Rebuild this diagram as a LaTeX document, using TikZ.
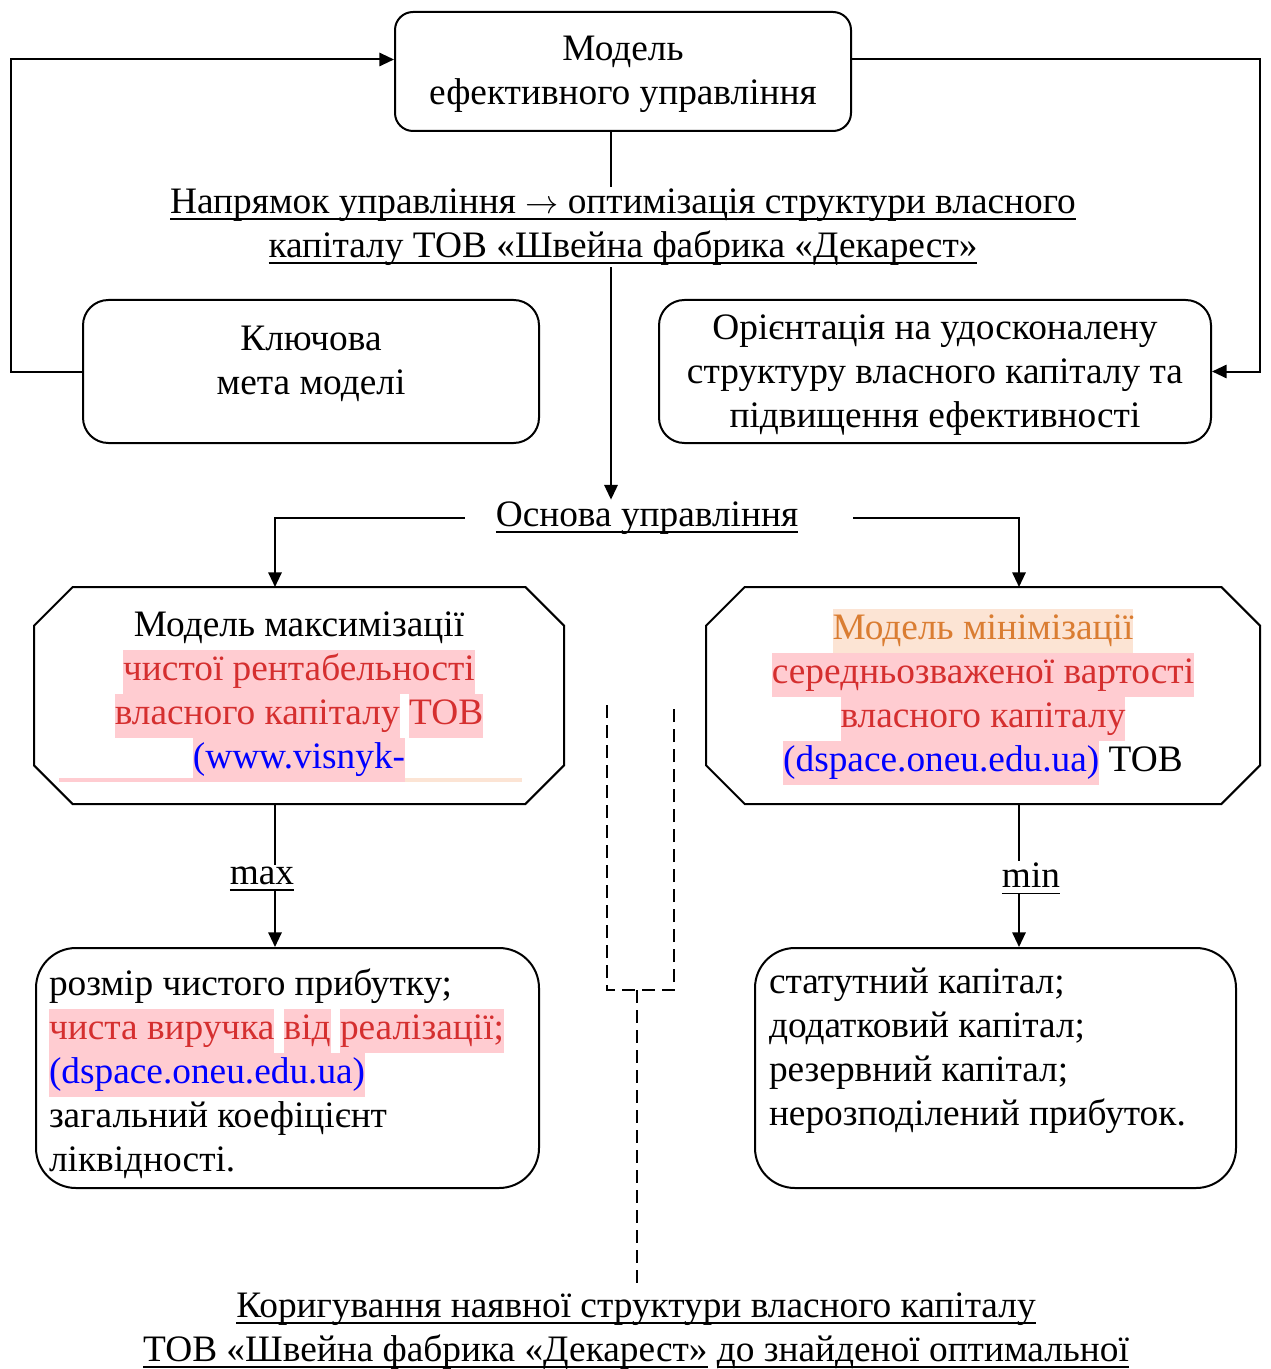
\documentclass[tikz,border=0pt]{standalone}
\usepackage{fontspec}
\setmainfont{Liberation Serif}
\usetikzlibrary{arrows.meta}

\definecolor{txtred}{RGB}{213,47,47}
\definecolor{txtorange}{RGB}{218,125,50}
\definecolor{txtblue}{RGB}{0,0,255}
\definecolor{hlpink}{RGB}{255,204,209}
\definecolor{hlpeach}{RGB}{252,228,212}

% underline at a fixed depth
\newsavebox{\undlbox}
\newcommand{\undl}[1]{\sbox{\undlbox}{#1}\rlap{\rule[-5pt]{\wd\undlbox}{1.3pt}}\usebox{\undlbox}}
\newcommand{\redhl}[1]{{\fboxsep=0pt\colorbox{hlpink}{\strut\textcolor{txtred}{#1}}}}
\newcommand{\bluehl}[1]{{\fboxsep=0pt\colorbox{hlpink}{\strut\textcolor{txtblue}{#1}}}}
\newcommand{\orangehl}[1]{{\fboxsep=0pt\colorbox{hlpeach}{\strut\textcolor{txtorange}{#1}}}}
% octagon round a named node (yscale=-1: positive yshift goes down)
\newcommand{\drawoct}[1]{\draw ([xshift=29pt]#1.north west) -- ([xshift=-29pt]#1.north east) -- ([yshift=29pt]#1.north east) -- ([yshift=-29pt]#1.south east) -- ([xshift=-29pt]#1.south east) -- ([xshift=29pt]#1.south west) -- ([yshift=-29pt]#1.south west) -- ([yshift=29pt]#1.north west) -- cycle;}

\tikzset{every picture/.style={line width=1.5pt}}

\begin{document}
\begin{tikzpicture}[x=0.75pt,y=0.75pt,yscale=-1,xscale=1,
		every node/.style={font=\fontsize{28}{33}\selectfont},
		roundbox/.style={draw,rounded corners=13.5pt,align=center,inner sep=0pt},
		octbox/.style={align=center,inner sep=0pt},
		link/.style={-{Triangle[length=11pt,width=10pt]}},
		lbl/.style={align=center,inner sep=0.75pt},
		dashline/.style={dash pattern={on 10pt off 5pt}}]
		\useasboundingbox (0,0) rectangle (1270,1369);
		
		%Spines of the connectors
		\coordinate (spine) at (611,0);
		\coordinate (lspine) at (275,0);
		\coordinate (rspine) at (1019,0);
		
		%Rounded Rect: model
		\node[roundbox,minimum width=342pt,minimum height=89.25pt] (model) at (623,71.5) {};
		\node[lbl] (modeltxt) at (623,74) {Модель\\ефективного управління};
		% Text Node
		\node[lbl] (course) at (623,227) {\undl{Напрямок управління $\rightarrow$ оптимізація структури власного}\\\undl{капіталу ТОВ «Швейна фабрика «Декарест»}};
		%Rounded Rect: goal
		\node[roundbox,rounded corners=19pt,minimum width=342pt,minimum height=107.25pt] (goal) at (311,371.5) {};
		\node[lbl] (goaltxt) at (311,364) {Ключова\\мета моделі};
		%Rounded Rect: orientation
		\node[roundbox,rounded corners=19pt,minimum width=414pt,minimum height=107.25pt] (orient) at (935,371.5) {};
		\node[lbl] (orienttxt) at (935,375) {Орієнтація на удосконалену\\структуру власного капіталу та\\підвищення ефективності};
		% Text Node
		\node[lbl] (base) at (647,518) {\undl{Основа управління}};
		
		%Highlight strip under the left model
		\fill[hlpink] (59,778) rectangle (370,782);
		\fill[hlpeach] (378,778) rectangle (522,782);
		%Octagons: models
		\node[octbox,minimum width=396pt,minimum height=161.25pt] (maxm) at (299,695.5) {};
		\drawoct{maxm}
		\node[lbl,inner sep=0pt] (maxmtxt) at (299,697) {Модель максимізації\\\redhl{чистої рентабельності}\\\redhl{власного капіталу} \redhl{ТОВ}\\\bluehl{(www.visnyk-}};
		\node[octbox,minimum width=414pt,minimum height=161.25pt] (minm) at (983,695.5) {};
		\drawoct{minm}
		\node[lbl,inner sep=0pt] (minmtxt) at (983,697) {\orangehl{Модель мінімізації}\\\redhl{середньозваженої вартості}\\\redhl{власного капіталу}\\\bluehl{(dspace.oneu.edu.ua)} ТОВ};
		
		% Text Node
		\node[lbl,text depth=0.25em] (maxlbl) at (262,877) {\undl{max}};
		% Text Node
		\node[lbl,text depth=0.25em] (minlbl) at (1031,877) {\undl{min}};
		
		%Rounded Rect: indicators
		\node[roundbox,rounded corners=30pt,minimum width=377.25pt,minimum height=180pt] (profit) at (287.5,1068) {};
		\node[anchor=north west,align=left,inner sep=0pt] (profittxt) at (48,968) {розмір чистого прибутку;\\\redhl{чиста виручка} \redhl{від} \redhl{реалізації;}\\\bluehl{(dspace.oneu.edu.ua)}\\загальний коефіцієнт\\ліквідності.};
		\node[roundbox,rounded corners=30pt,minimum width=360.75pt,minimum height=180pt] (capital) at (995.5,1068) {};
		\node[anchor=north west,align=left,inner sep=0pt] (capitaltxt) at (768,967) {статутний капітал;\\додатковий капітал;\\резервний капітал;\\нерозподілений прибуток.};
		
		% Text Node
		\node[lbl] (corr) at (636,1331) {\undl{Коригування наявної структури власного капіталу}\\\undl{ТОВ «Швейна фабрика «Декарест»} \undl{до знайденої оптимальної}};
		
		%Connectors
		\draw (model.south -| spine) -- (course.north -| spine);
		\draw[link] (course.south -| spine) -- (base.north -| spine);
		\draw[link] (goal.west) -- ++(-71,0) |- ([yshift=-9pt]model.west);
		\draw[link] ([yshift=-9pt]model.east) -| ([xshift=36pt]orient.east) -- (orient.east);
		\draw[link] ([xshift=-21.75pt]base.west) -| (maxm.north -| lspine);
		\draw[link] ([xshift=39.75pt]base.east) -| (minm.north -| rspine);
		\draw (maxm.south -| lspine) -- (maxlbl.north -| lspine);
		\draw[link] (maxlbl.south -| lspine) -- (profit.north -| lspine);
		\draw (minm.south -| rspine) -- (minlbl.north -| rspine);
		\draw[link] (minlbl.south -| rspine) -- (capital.north -| rspine);
		
		%Dashed bracket
		\draw[dashline] (607,705) -- (607,990) -- (674,990) -- (674,705);
		\coordinate (brk) at (637,990);
		\draw[dashline] (brk) -- ([yshift=-6pt]brk |- corr.north);
		
	\end{tikzpicture}
\end{document}
